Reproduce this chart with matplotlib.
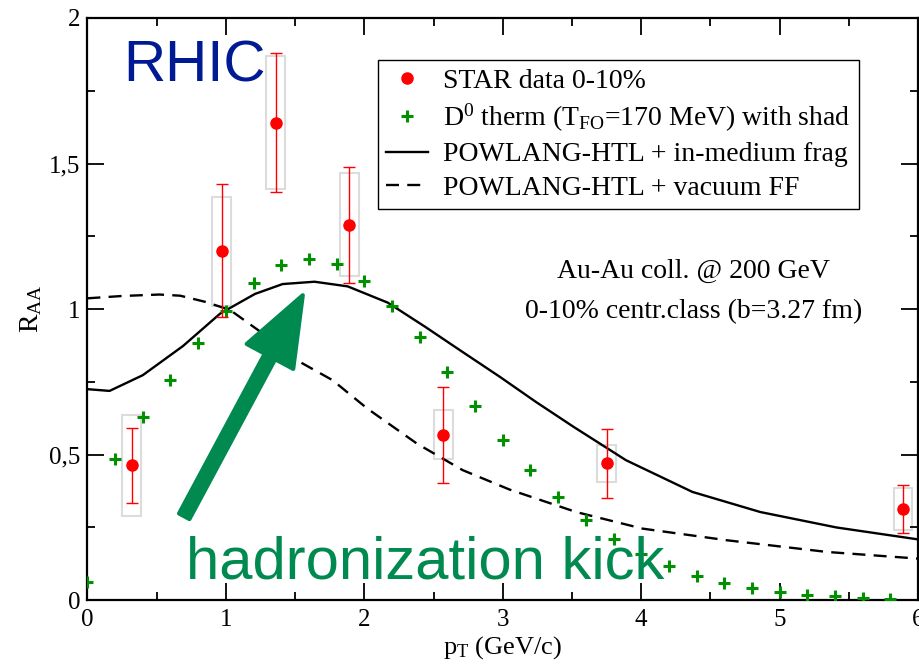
import matplotlib
matplotlib.use("Agg")
import matplotlib.pyplot as plt
from matplotlib.patches import Rectangle, FancyArrowPatch
from matplotlib.ticker import MultipleLocator, FuncFormatter

plt.rcParams['font.family'] = ['Liberation Serif', 'DejaVu Serif']
plt.rcParams['mathtext.fontset'] = 'custom'
plt.rcParams['mathtext.rm'] = 'Liberation Serif'
plt.rcParams['mathtext.it'] = 'Liberation Serif:italic'

# STAR D0 R_AA, 0-10% central Au-Au
star_pt = [0.32, 0.97, 1.36, 1.89, 2.57, 3.75, 5.89]
star_raa = [0.463, 1.200, 1.639, 1.289, 0.568, 0.470, 0.314]
star_stat_lo = [0.334, 0.974, 1.401, 1.090, 0.403, 0.351, 0.231]
star_stat_hi = [0.591, 1.428, 1.879, 1.488, 0.733, 0.588, 0.396]
star_sys_lo = [0.291, 1.010, 1.411, 1.113, 0.485, 0.405, 0.241]
star_sys_hi = [0.635, 1.384, 1.868, 1.466, 0.652, 0.533, 0.387]

# thermal D0 spectrum with shadowing
therm_pt = [0.0, 0.2, 0.4, 0.6, 0.8, 1.0, 1.2, 1.4, 1.6, 1.8,
            2.0, 2.2, 2.4, 2.6, 2.8, 3.0, 3.2, 3.4, 3.6, 3.8,
            4.0, 4.2, 4.4, 4.6, 4.8, 5.0, 5.2, 5.4, 5.6, 5.8]
therm_raa = [0.061, 0.485, 0.631, 0.758, 0.882, 0.995, 1.089, 1.150, 1.171, 1.154,
             1.095, 1.009, 0.904, 0.784, 0.667, 0.551, 0.446, 0.355, 0.276, 0.210,
             0.158, 0.116, 0.082, 0.058, 0.041, 0.027, 0.018, 0.014, 0.009, 0.006]

# POWLANG-HTL curves
med_pt = [0.0, 0.16, 0.40, 0.69, 0.96, 1.21, 1.41, 1.64, 1.88, 2.17,
          2.44, 2.69, 2.98, 3.24, 3.51, 3.89, 4.37, 4.86, 5.41, 6.0]
med_raa = [0.725, 0.719, 0.773, 0.873, 0.985, 1.052, 1.086, 1.094, 1.078, 1.022,
           0.939, 0.859, 0.767, 0.681, 0.596, 0.481, 0.372, 0.303, 0.250, 0.209]
vac_pt = [0.0, 0.25, 0.52, 0.67, 0.85, 1.03, 1.25, 1.51, 1.77, 2.02,
          2.38, 2.71, 3.05, 3.53, 4.01, 4.62, 5.34, 6.0]
vac_raa = [1.037, 1.045, 1.050, 1.046, 1.025, 0.997, 0.922, 0.825, 0.756, 0.659,
           0.538, 0.447, 0.380, 0.303, 0.246, 0.206, 0.166, 0.143]

fig = plt.figure(figsize=(9.2, 6.64), dpi=100)
ax = fig.add_axes([0.095, 0.096, 0.903, 0.877])

box_hw = 0.068
for x, lo, hi in zip(star_pt, star_sys_lo, star_sys_hi):
    ax.add_patch(Rectangle((x - box_hw, lo), 2 * box_hw, hi - lo, fill=False,
                           edgecolor='#dcdcdc', lw=1.5, zorder=1))

l_med, = ax.plot(med_pt, med_raa, color='black', lw=1.7, zorder=3,
                 label='POWLANG-HTL + in-medium frag')
l_vac, = ax.plot(vac_pt, vac_raa, color='black', lw=1.7, dashes=(5.5, 3.5), zorder=3,
                 label='POWLANG-HTL + vacuum FF')
l_th, = ax.plot(therm_pt, therm_raa, '+', color='#009000', ms=8, mew=2.2, zorder=4,
                label=r'D$^{\mathrm{0}}$ therm (T$_{\mathrm{FO}}$=170 MeV) with shad')

yerr = [[y - lo for y, lo in zip(star_raa, star_stat_lo)],
        [hi - y for y, hi in zip(star_raa, star_stat_hi)]]
ax.errorbar(star_pt, star_raa, yerr=yerr, fmt='none', ecolor='red', elinewidth=1,
            capsize=4, capthick=1, zorder=5)
l_star, = ax.plot(star_pt, star_raa, 'o', color='red', ms=8, zorder=6,
                  label='STAR data 0-10%')

ax.set_xlim(0, 6)
ax.set_ylim(0, 2)
ax.xaxis.set_major_locator(MultipleLocator(1))
ax.xaxis.set_minor_locator(MultipleLocator(0.5))
ax.yaxis.set_major_locator(MultipleLocator(0.5))
ax.yaxis.set_minor_locator(MultipleLocator(0.25))
ax.yaxis.set_major_formatter(FuncFormatter(lambda v, p: ('%g' % v).replace('.', ',')))
ax.tick_params(which='both', direction='in', top=True, right=True, width=1.3,
               labelsize=18)
ax.tick_params(which='major', length=12)
ax.tick_params(which='minor', length=6)
ax.tick_params(axis='x', pad=6)
ax.tick_params(axis='y', pad=5)
for s in ax.spines.values():
    s.set_linewidth(1.6)

ax.set_xlabel(r'p$_{\mathrm{T}}$ (GeV/c)', fontsize=19)
ax.set_ylabel(r'R$_{\mathrm{AA}}$', fontsize=20)
ax.xaxis.set_label_coords(0.5, -0.058)
ax.yaxis.set_label_coords(-0.052, 0.5)

ax.legend(handles=[l_star, l_th, l_med, l_vac], loc='upper left',
          bbox_to_anchor=(0.35, 0.927), fontsize=20, frameon=True, fancybox=False,
          edgecolor='black', framealpha=1, borderpad=0.3, labelspacing=0.28,
          handlelength=1.5, handletextpad=0.55, borderaxespad=0)
ax.get_legend().get_frame().set_linewidth(1.0)

ax.text(0.730, 0.565, 'Au-Au coll. @ 200 GeV', transform=ax.transAxes,
        ha='center', va='center', fontsize=20)
ax.text(0.730, 0.496, '0-10% centr.class (b=3.27 fm)', transform=ax.transAxes,
        ha='center', va='center', fontsize=20)

ax.text(0.043, 0.890, 'RHIC', transform=ax.transAxes, color='#001a94',
        fontsize=42, family='Liberation Sans', ha='left', va='baseline')
ax.text(0.119, 0.037, 'hadronization kick', transform=ax.transAxes, color='#008a50',
        fontsize=43, family='Liberation Sans', ha='left', va='baseline', zorder=7)

arrow = FancyArrowPatch((0.69, 0.28), (1.565, 1.056),
                        arrowstyle='simple,head_length=5.0,head_width=3.8,tail_width=0.85',
                        mutation_scale=10, facecolor='#008a50', edgecolor='#008a50',
                        lw=3, joinstyle='round', zorder=7)
ax.add_patch(arrow)

fig.savefig('out.png', dpi=100)
